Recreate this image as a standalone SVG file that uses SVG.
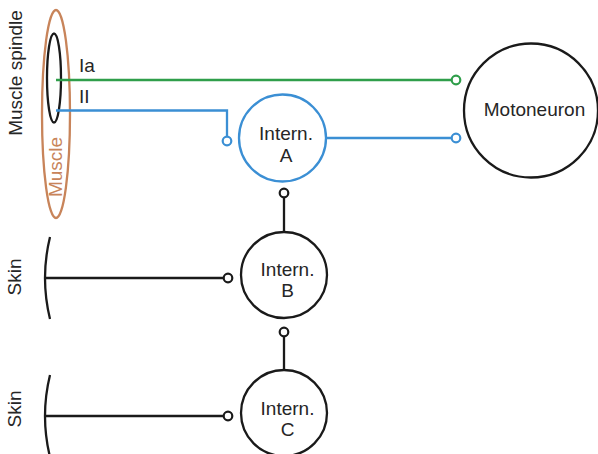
<svg xmlns="http://www.w3.org/2000/svg" width="598" height="454" viewBox="0 0 598 454">
  <style>
    text { font-family: "Liberation Sans", Arial, sans-serif; font-size: 19px; fill: #262626; }
    .mid { text-anchor: middle; }
    .blk { fill: none; stroke: #1a1a1a; stroke-width: 2.3; }
    .grn { fill: none; stroke: #2f9e4a; stroke-width: 2.5; }
    .blu { fill: none; stroke: #3b8fd4; stroke-width: 2.3; }
    .term { fill: #fff; stroke-width: 2.2; }
  </style>
  <rect width="598" height="454" fill="#fff"/>

  <!-- muscle with spindle -->
  <g id="muscle">
    <ellipse cx="56" cy="114" rx="14" ry="104" fill="none" stroke="#c8845a" stroke-width="2.3"/>
    <text transform="translate(62,167) rotate(-90)" class="mid" style="fill:#c8845a">Muscle</text>
  </g>
  <g id="spindle">
    <ellipse cx="54" cy="78" rx="7" ry="44.5" class="blk"/>
    <text transform="translate(22,73) rotate(-90)" class="mid">Muscle spindle</text>
  </g>

  <!-- skin receptors -->
  <g id="skin-b">
    <path d="M50,237 Q40,278 50,319" class="blk"/>
    <text transform="translate(21,277) rotate(-90)" class="mid">Skin</text>
  </g>
  <g id="skin-c">
    <path d="M50,375 Q40,416 50,457" class="blk"/>
    <text transform="translate(21,409) rotate(-90)" class="mid">Skin</text>
  </g>

  <!-- neurons -->
  <g id="intern-a">
    <circle cx="282.5" cy="138" r="43.5" class="blu"/>
    <text x="286" y="140" class="mid">Intern.</text>
    <text x="286" y="162" class="mid">A</text>
  </g>
  <g id="intern-b">
    <circle cx="284" cy="275" r="43" class="blk"/>
    <text x="287.5" y="276" class="mid">Intern.</text>
    <text x="287.5" y="297" class="mid">B</text>
  </g>
  <g id="intern-c">
    <circle cx="284" cy="413" r="43" class="blk"/>
    <text x="287.5" y="415" class="mid">Intern.</text>
    <text x="287.5" y="436" class="mid">C</text>
  </g>
  <g id="motoneuron">
    <circle cx="531" cy="110.5" r="67" class="blk"/>
    <text x="534.5" y="116" class="mid">Motoneuron</text>
  </g>

  <!-- connectors -->
  <g id="connectors">
    <!-- Ia afferent -->
    <path d="M56,80 H452" class="grn"/>
    <circle cx="456" cy="80" r="4.3" class="term grn"/>
    <text x="79" y="72">Ia</text>
    <!-- II afferent -->
    <path d="M56,110.5 H227 V137" class="blu"/>
    <circle cx="227" cy="141" r="4.3" class="term blu"/>
    <text x="79" y="103">II</text>
    <!-- Intern. A to motoneuron -->
    <path d="M326,138 H452" class="blu"/>
    <circle cx="456" cy="138" r="4.3" class="term blu"/>
    <!-- Intern. B dendrite -->
    <path d="M284,197 V232" class="blk"/>
    <circle cx="284" cy="193" r="4.3" class="term blk"/>
    <!-- Intern. C dendrite -->
    <path d="M284,336 V370" class="blk"/>
    <circle cx="284" cy="332" r="4.3" class="term blk"/>
    <!-- skin afferents -->
    <path d="M45,278 H224" class="blk"/>
    <circle cx="228" cy="278" r="4.3" class="term blk"/>
    <path d="M45,416 H224" class="blk"/>
    <circle cx="228" cy="416" r="4.3" class="term blk"/>
  </g>
</svg>
